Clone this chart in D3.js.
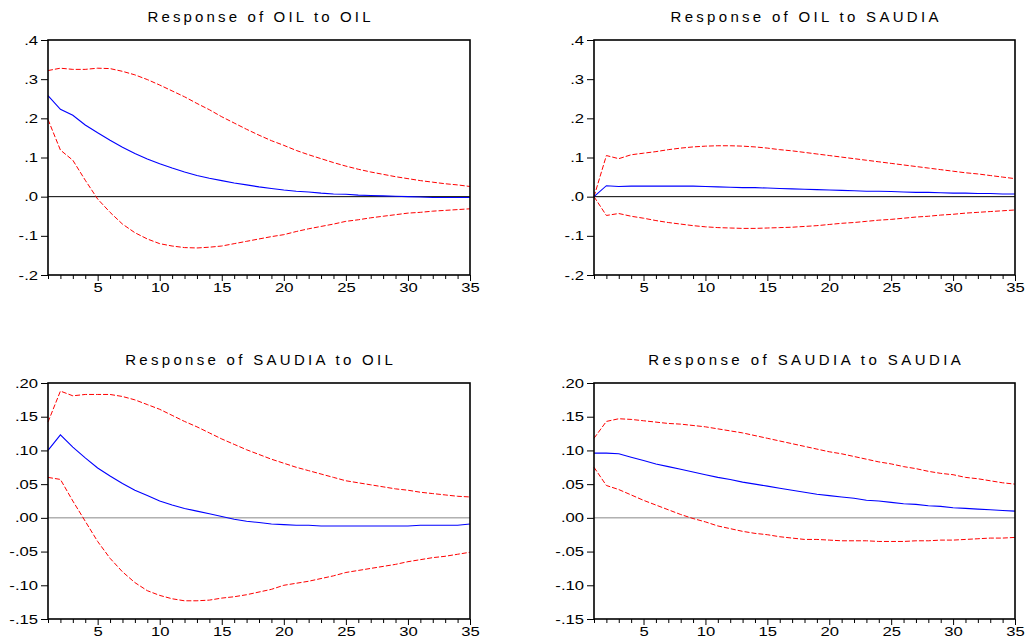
<!DOCTYPE html>
<html>
<head>
<meta charset="utf-8">
<script src="https://cdn.jsdelivr.net/npm/d3@7"></script>
<style>
  body { margin: 0; background: #fff; }
  svg { display: block; }
  text { font-family: "Liberation Sans", Arial, sans-serif; fill: #000; }
</style>
</head>
<body>
<svg id="chart" width="1026" height="641"></svg>
<script>
// periods 1..35
const periods = d3.range(1, 36);

// Response of OIL to OIL
const oilOilIrf = [0.258, 0.223, 0.208, 0.183, 0.163, 0.144, 0.126, 0.110, 0.096, 0.084, 0.073, 0.063, 0.054, 0.047, 0.041, 0.035, 0.030, 0.025, 0.021, 0.017, 0.014, 0.012, 0.009, 0.007, 0.006, 0.004, 0.003, 0.002, 0.001, 0.000, -0.001, -0.002, -0.002, -0.002, -0.002];
const oilOilUp = [0.322, 0.328, 0.325, 0.325, 0.328, 0.327, 0.320, 0.311, 0.299, 0.285, 0.270, 0.255, 0.238, 0.222, 0.204, 0.188, 0.172, 0.157, 0.143, 0.131, 0.118, 0.107, 0.097, 0.087, 0.078, 0.070, 0.063, 0.057, 0.051, 0.046, 0.041, 0.037, 0.033, 0.030, 0.026];
const oilOilLo = [0.197, 0.119, 0.093, 0.042, -0.006, -0.040, -0.070, -0.092, -0.108, -0.120, -0.126, -0.130, -0.131, -0.129, -0.126, -0.120, -0.114, -0.108, -0.102, -0.097, -0.089, -0.082, -0.076, -0.070, -0.063, -0.059, -0.054, -0.050, -0.046, -0.042, -0.040, -0.037, -0.035, -0.033, -0.031];

// Response of OIL to SAUDIA
const oilSauIrf = [0.000, 0.028, 0.026, 0.027, 0.027, 0.027, 0.027, 0.027, 0.027, 0.026, 0.025, 0.024, 0.023, 0.023, 0.022, 0.021, 0.020, 0.019, 0.018, 0.017, 0.016, 0.015, 0.014, 0.014, 0.013, 0.012, 0.011, 0.011, 0.010, 0.009, 0.009, 0.008, 0.008, 0.007, 0.007];
const oilSauUp = [0.000, 0.105, 0.097, 0.107, 0.111, 0.115, 0.120, 0.124, 0.127, 0.129, 0.130, 0.130, 0.129, 0.127, 0.124, 0.120, 0.117, 0.113, 0.109, 0.105, 0.101, 0.097, 0.093, 0.089, 0.085, 0.081, 0.077, 0.073, 0.069, 0.065, 0.061, 0.058, 0.054, 0.050, 0.046];
const oilSauLo = [0.000, -0.048, -0.043, -0.050, -0.055, -0.061, -0.066, -0.070, -0.074, -0.077, -0.079, -0.080, -0.081, -0.081, -0.080, -0.079, -0.078, -0.076, -0.074, -0.071, -0.068, -0.066, -0.063, -0.060, -0.058, -0.055, -0.052, -0.050, -0.047, -0.045, -0.042, -0.040, -0.038, -0.036, -0.034];

// Response of SAUDIA to OIL
const sauOilIrf = [0.100, 0.123, 0.105, 0.089, 0.074, 0.062, 0.051, 0.041, 0.033, 0.025, 0.019, 0.014, 0.010, 0.006, 0.002, -0.002, -0.005, -0.007, -0.009, -0.010, -0.011, -0.011, -0.012, -0.012, -0.012, -0.012, -0.012, -0.012, -0.012, -0.012, -0.011, -0.011, -0.011, -0.011, -0.009];
const sauOilUp = [0.142, 0.188, 0.181, 0.183, 0.183, 0.183, 0.180, 0.175, 0.168, 0.161, 0.152, 0.143, 0.135, 0.126, 0.117, 0.109, 0.101, 0.094, 0.087, 0.081, 0.075, 0.070, 0.065, 0.060, 0.055, 0.052, 0.049, 0.046, 0.043, 0.041, 0.038, 0.036, 0.034, 0.032, 0.031];
const sauOilLo = [0.060, 0.057, 0.025, -0.005, -0.035, -0.060, -0.080, -0.096, -0.108, -0.115, -0.120, -0.123, -0.123, -0.122, -0.119, -0.117, -0.114, -0.110, -0.106, -0.100, -0.097, -0.094, -0.090, -0.086, -0.081, -0.078, -0.075, -0.072, -0.069, -0.065, -0.062, -0.059, -0.057, -0.054, -0.051];

// Response of SAUDIA to SAUDIA
const sauSauIrf = [0.096, 0.096, 0.095, 0.090, 0.085, 0.080, 0.076, 0.072, 0.068, 0.064, 0.060, 0.057, 0.053, 0.050, 0.047, 0.044, 0.041, 0.038, 0.035, 0.033, 0.031, 0.029, 0.026, 0.025, 0.023, 0.021, 0.020, 0.018, 0.017, 0.015, 0.014, 0.013, 0.012, 0.011, 0.010];
const sauSauUp = [0.118, 0.143, 0.147, 0.146, 0.144, 0.142, 0.140, 0.139, 0.137, 0.135, 0.132, 0.129, 0.126, 0.122, 0.118, 0.114, 0.110, 0.106, 0.102, 0.098, 0.095, 0.091, 0.087, 0.083, 0.080, 0.076, 0.073, 0.069, 0.066, 0.064, 0.060, 0.058, 0.055, 0.052, 0.050];
const sauSauLo = [0.075, 0.048, 0.042, 0.034, 0.026, 0.019, 0.012, 0.005, -0.001, -0.006, -0.012, -0.016, -0.020, -0.023, -0.025, -0.028, -0.030, -0.032, -0.032, -0.033, -0.034, -0.034, -0.034, -0.035, -0.035, -0.035, -0.034, -0.034, -0.033, -0.033, -0.032, -0.031, -0.030, -0.030, -0.029];

const titles = ["Response of OIL to OIL", "Response of OIL to SAUDIA",
                "Response of SAUDIA to OIL", "Response of SAUDIA to SAUDIA"];
const topTicks = [-0.2, -0.1, 0.0, 0.1, 0.2, 0.3, 0.4];
const bottomTicks = [-0.15, -0.10, -0.05, 0.00, 0.05, 0.10, 0.15, 0.20];
const xLabels = [5, 10, 15, 20, 25, 30, 35];

const panels = [
  { title: titles[0], irf: oilOilIrf, up: oilOilUp, lo: oilOilLo, ticks: topTicks, dec: 1,
    box: [48, 470, 40, 275], zero: "#000" },
  { title: titles[1], irf: oilSauIrf, up: oilSauUp, lo: oilSauLo, ticks: topTicks, dec: 1,
    box: [594, 1015, 40, 275], zero: "#000" },
  { title: titles[2], irf: sauOilIrf, up: sauOilUp, lo: sauOilLo, ticks: bottomTicks, dec: 2,
    box: [48, 470, 383, 619], zero: "#888" },
  { title: titles[3], irf: sauSauIrf, up: sauSauUp, lo: sauSauLo, ticks: bottomTicks, dec: 2,
    box: [594, 1015, 383, 619], zero: "#888" }
];

const svg = d3.select("#chart");

function fmt(dec) {
  return (v) => d3.format("." + dec + "f")(v).replace("−", "-").replace(/^(-?)0\./, "$1.");
}

panels.forEach(function (p) {
  const [x0, x1, y0, y1] = p.box;
  const x = d3.scaleLinear().domain([1, 35]).range([x0, x1]);
  const y = d3.scaleLinear().domain(d3.extent(p.ticks)).range([y1, y0]);
  const g = svg.append("g");

  // title
  g.append("text")
    .attr("class", "title")
    .attr("x", (x0 + x1) / 2)
    .attr("y", y0 - 18)
    .attr("text-anchor", "middle")
    .attr("font-size", 15)
    .text(p.title);

  // zero line
  g.append("line")
    .attr("x1", x0).attr("x2", x1)
    .attr("y1", y(0)).attr("y2", y(0))
    .attr("stroke", p.zero).attr("stroke-width", 1);

  const line = d3.line().x((d, i) => x(periods[i])).y((d) => y(d));

  g.append("path").datum(p.up).attr("d", line)
    .attr("fill", "none").attr("stroke", "#ff0000").attr("stroke-width", 1)
    .attr("stroke-dasharray", "5,2");
  g.append("path").datum(p.lo).attr("d", line)
    .attr("fill", "none").attr("stroke", "#ff0000").attr("stroke-width", 1)
    .attr("stroke-dasharray", "5,2");
  g.append("path").datum(p.irf).attr("d", line)
    .attr("fill", "none").attr("stroke", "#0000ff").attr("stroke-width", 1.1);

  // y axis
  const yAxis = g.append("g")
    .attr("transform", `translate(${x0},0)`)
    .call(d3.axisLeft(y).tickValues(p.ticks).tickSize(7).tickPadding(3).tickFormat(fmt(p.dec)));
  yAxis.select(".domain").remove();
  yAxis.selectAll("text").attr("class", "stretch").attr("font-size", 12.5)
    .attr("font-family", null).attr("fill", "#000");
  yAxis.attr("font-family", null);

  // x axis
  const xAxis = g.append("g")
    .attr("transform", `translate(0,${y1})`)
    .call(d3.axisBottom(x).tickValues(periods).tickSize(4).tickPadding(4)
      .tickFormat((d) => xLabels.includes(d) ? d : ""));
  xAxis.select(".domain").remove();
  xAxis.selectAll(".tick").filter((d) => xLabels.includes(d)).select("line").attr("y2", 6);
  xAxis.selectAll("text").attr("class", "stretch").attr("font-size", 12.5)
    .attr("font-family", null).attr("fill", "#000");
  xAxis.attr("font-family", null);

  // frame
  g.append("rect")
    .attr("x", x0).attr("y", y0)
    .attr("width", x1 - x0).attr("height", y1 - y0)
    .attr("fill", "none").attr("stroke", "#000").attr("stroke-width", 1.6);
});

// the original picture is horizontally stretched
svg.selectAll("text.stretch").each(function () {
  const w = this.getComputedTextLength();
  if (w > 0) {
    d3.select(this).attr("textLength", w * 1.33).attr("lengthAdjust", "spacingAndGlyphs");
  }
});
// titles are spaced out rather than stretched
svg.selectAll("text.title").each(function () {
  const w = this.getComputedTextLength();
  d3.select(this).attr("textLength", w * 1.42).attr("lengthAdjust", "spacing");
});
</script>
</body>
</html>
